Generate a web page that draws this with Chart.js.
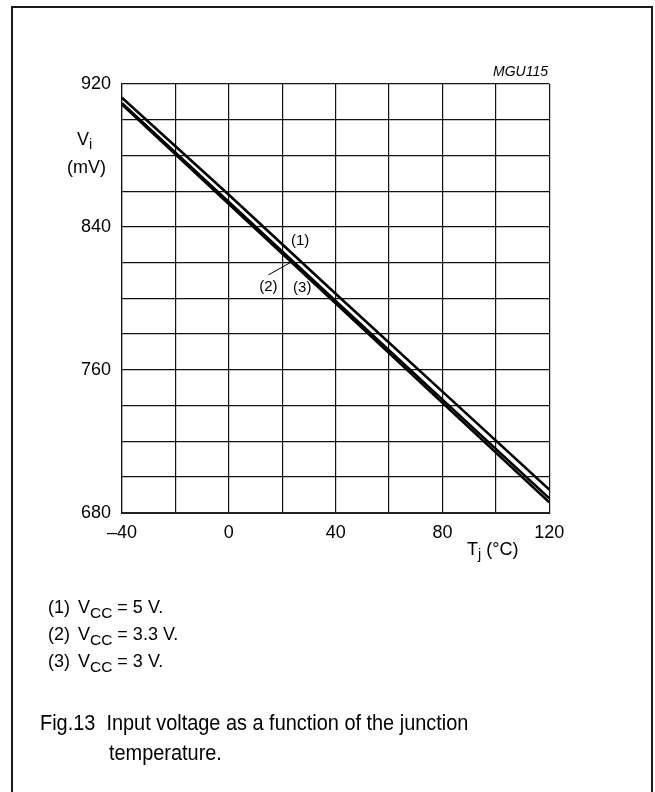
<!DOCTYPE html>
<html><head><meta charset="utf-8">
<script src="https://cdn.jsdelivr.net/npm/chart.js@4"></script>
<style>
html,body{margin:0;padding:0;background:#fff;width:655px;height:792px;overflow:hidden;font-family:"Liberation Sans",Arial,sans-serif;color:#000}
#frame{position:absolute;left:11px;top:6px;width:638px;height:800px;border:2px solid #1a1a1a;border-bottom:none;}
#c{position:absolute;left:0;top:0}
.t{position:absolute;white-space:nowrap;line-height:1}
.sub{font-size:0.8em;position:relative;top:0.3em}
.lg .sub{font-size:0.86em}
</style></head><body>
<div id="frame"></div>
<canvas id="c" width="655" height="792"></canvas>
<div class="t" style="left:493px;top:64px;font-size:14px;font-style:italic">MGU115</div>
<div class="t" style="left:77px;top:130px;font-size:18px">V<span class="sub">i</span></div>
<div class="t" style="left:67px;top:158px;font-size:18px">(mV)</div>
<div class="t" style="left:467px;top:540px;font-size:18px">T<span class="sub">j</span> (°C)</div>
<div class="t lg" style="left:48px;top:598px;font-size:18px">(1)</div>
<div class="t lg" style="left:78px;top:598px;font-size:18px">V<span class="sub">CC</span> = 5 V.</div>
<div class="t lg" style="left:48px;top:625px;font-size:18px">(2)</div>
<div class="t lg" style="left:78px;top:625px;font-size:18px">V<span class="sub">CC</span> = 3.3 V.</div>
<div class="t lg" style="left:48px;top:652px;font-size:18px">(3)</div>
<div class="t lg" style="left:78px;top:652px;font-size:18px">V<span class="sub">CC</span> = 3 V.</div>
<div class="t" style="left:40px;top:712px;font-size:22px;transform:scaleX(0.905);transform-origin:0 0">Fig.13&nbsp;&nbsp;Input voltage as a function of the junction</div>
<div class="t" style="left:109px;top:742px;font-size:22px;transform:scaleX(0.905);transform-origin:0 0">temperature.</div>
<script>
// ---- data ----
const temps = [-40, 0, 40, 80, 120];          // Tj (°C)
const vcc5  = [912.3, 858.0, 802.6, 747.8, 692.9]; // (1) VCC = 5 V
const vcc33 = [909.3, 854.0, 798.6, 743.3, 688.0]; // (2) VCC = 3.3 V
const vcc3  = [908.5, 852.8, 797.2, 741.5, 685.8]; // (3) VCC = 3 V
const seriesNames = ['(1)', '(2)', '(3)'];
const xTickLabels = [-40, 0, 40, 80, 120];
const yTickLabels = [680, 760, 840, 920];

// annotation anchors in data coordinates
const annot = [
  {text: '(1)', x: 26.7, y: 832.2},
  {text: '(2)', x: 14.8, y: 806.4},
  {text: '(3)', x: 27.5, y: 805.9}
];
const leader = {x1: 14.8, y1: 813.1, x2: 23.7, y2: 820.6};

const toPts = arr => temps.map((t, i) => ({x: t, y: arr[i]}));

const annotPlugin = {
  id: 'annot',
  afterDatasetsDraw(chart) {
    const {ctx, scales: {x, y}} = chart;
    ctx.save();
    ctx.fillStyle = '#000';
    ctx.font = '15px "Liberation Sans", Arial, sans-serif';
    ctx.textAlign = 'center';
    ctx.textBaseline = 'middle';
    annot.forEach(a => ctx.fillText(a.text, x.getPixelForValue(a.x), y.getPixelForValue(a.y)));
    ctx.strokeStyle = '#000';
    ctx.lineWidth = 1;
    ctx.beginPath();
    ctx.moveTo(x.getPixelForValue(leader.x1), y.getPixelForValue(leader.y1));
    ctx.lineTo(x.getPixelForValue(leader.x2), y.getPixelForValue(leader.y2));
    ctx.stroke();
    ctx.restore();
  }
};

const ds = (label, arr) => ({
  label, data: toPts(arr), borderColor: '#000', borderWidth: 2.6,
  pointRadius: 0, fill: false, tension: 0
});

new Chart(document.getElementById('c'), {
  type: 'line',
  data: { datasets: [ds(seriesNames[0], vcc5), ds(seriesNames[1], vcc33), ds(seriesNames[2], vcc3)] },
  options: {
    responsive: false,
    animation: false,
    devicePixelRatio: 1,
    layout: { padding: { left: 72, top: 84, right: 105.7, bottom: 249.3 } },
    plugins: { legend: { display: false }, tooltip: { enabled: false } },
    scales: {
      x: {
        type: 'linear', min: -40, max: 120,
        afterFit: s => { s.height = 30; },
        grid: { color: '#111', lineWidth: 1.2, drawTicks: false },
        border: { color: '#222', width: 2 },
        ticks: {
          stepSize: 20, padding: 10, color: '#000', maxRotation: 0, autoSkip: false,
          font: { family: '"Liberation Sans", Arial, sans-serif', size: 18 },
          callback: v => xTickLabels.includes(v) ? (v < 0 ? '\u2013' + Math.abs(v) : String(v)) : ''
        }
      },
      y: {
        type: 'linear', min: 680, max: 920,
        afterFit: s => { s.width = 50; },
        grid: { color: '#111', lineWidth: 1.2, drawTicks: false },
        border: { color: '#111', width: 1.2 },
        ticks: {
          stepSize: 20, padding: 11, color: '#000', autoSkip: false,
          font: { family: '"Liberation Sans", Arial, sans-serif', size: 18 },
          callback: v => yTickLabels.includes(v) ? String(v) : ''
        }
      }
    }
  },
  plugins: [annotPlugin]
});
</script>
</body></html>
